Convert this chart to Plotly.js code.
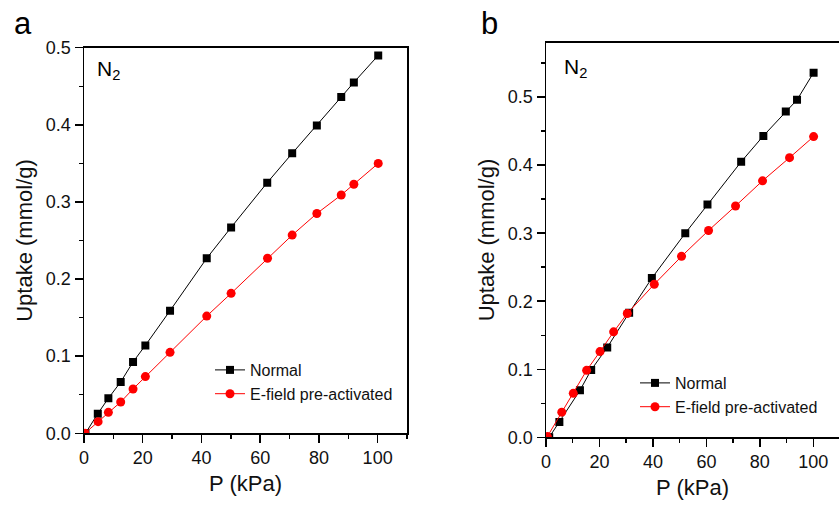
<!DOCTYPE html>
<html>
<head>
<meta charset="utf-8">
<script src="https://cdn.plot.ly/plotly-3.0.1.min.js"></script>
<style>html,body{margin:0;padding:0;background:#fff;}#chart{width:839px;height:506px;}</style>
</head>
<body>
<div id="chart"></div>
<script>
// Panel a: N2 uptake
const aNormalP = [0.5, 4.7, 8.3, 12.5, 16.7, 20.9, 29.3, 41.8, 50.1, 62.4, 70.9, 79.3, 87.6, 91.9, 100.2];
const aNormalU = [0.0, 0.0255, 0.0454, 0.0666, 0.0925, 0.114, 0.159, 0.227, 0.267, 0.325, 0.363, 0.399, 0.436, 0.455, 0.490];
const aEfieldP = [0.3, 4.8, 8.3, 12.5, 16.7, 20.9, 29.3, 41.8, 50.1, 62.5, 70.9, 79.3, 87.6, 91.9, 100.2];
const aEfieldU = [0.0, 0.0151, 0.0272, 0.0406, 0.0575, 0.0735, 0.105, 0.152, 0.1815, 0.227, 0.257, 0.285, 0.309, 0.323, 0.350];
// Panel b: N2 uptake
const bNormalP = [1.2, 5.0, 12.7, 16.9, 22.9, 31.1, 39.6, 52.1, 60.4, 73.0, 81.3, 89.7, 93.9, 100.1];
const bNormalU = [0.0, 0.0225, 0.069, 0.099, 0.132, 0.183, 0.234, 0.300, 0.342, 0.405, 0.443, 0.479, 0.496, 0.536];
const bEfieldP = [0.5, 5.9, 10.2, 15.2, 20.2, 25.3, 30.4, 40.5, 50.7, 60.8, 70.9, 81.0, 91.1, 100.1];
const bEfieldU = [0.001, 0.037, 0.0646, 0.0984, 0.126, 0.155, 0.182, 0.225, 0.266, 0.304, 0.340, 0.377, 0.411, 0.442];

const seriesNames = ["Normal", "E-field pre-activated"];
const panelLabels = ["a", "b"];
const gasLabel = "N<sub>2</sub>";
const xTitle = "P (kPa)";
const yTitle = "Uptake (mmol/g)";

const W = 839, H = 506;
const FONT = "Liberation Sans, Arial, sans-serif";
const px = v => v / W;
const py = v => 1 - v / H;

function normalTrace(x, y, xa, ya, lg, show) {
  return {x, y, xaxis: xa, yaxis: ya, legend: lg, name: seriesNames[0], showlegend: show,
    type: "scatter", mode: "lines+markers",
    line: {color: "#000000", width: 1},
    marker: {symbol: "square", size: 8, color: "#000000"}};
}
function efieldTrace(x, y, xa, ya, lg, show) {
  return {x, y, xaxis: xa, yaxis: ya, legend: lg, name: seriesNames[1], showlegend: show,
    type: "scatter", mode: "lines+markers",
    line: {color: "#ff0000", width: 1},
    marker: {symbol: "circle", size: 9, color: "#ff0000"}};
}

const data = [
  normalTrace(aNormalP, aNormalU, "x", "y", "legend", true),
  efieldTrace(aEfieldP, aEfieldU, "x", "y", "legend", true),
  normalTrace(bNormalP, bNormalU, "x2", "y2", "legend2", true),
  efieldTrace(bEfieldP, bEfieldU, "x2", "y2", "legend2", true)
];

const tickFont = {family: FONT, size: 18, color: "#111"};
const titleFont = {family: FONT, size: 22, color: "#111"};

function xAxis(domain, range, anchor) {
  return {domain, range, anchor, dtick: 20, tick0: 0, ticks: "outside", ticklen: 8, tickwidth: 1.5,
    tickcolor: "#000", showline: true, linecolor: "#000", linewidth: 1.5, mirror: true,
    showgrid: false, zeroline: false, tickfont: tickFont,
    minor: {dtick: 10, ticks: "outside", ticklen: 4, tickwidth: 1.5, tickcolor: "#000", showgrid: false},
    title: {text: xTitle, font: titleFont, standoff: 8}};
}
function yAxis(domain, range, anchor, mirror) {
  return {domain, range, anchor, dtick: 0.1, tick0: 0, tickformat: ".1f", ticks: "outside", ticklen: 8, tickwidth: 1.5,
    tickcolor: "#000", showline: true, linecolor: "#000", linewidth: 1.5, mirror: mirror,
    showgrid: false, zeroline: false, tickfont: tickFont,
    minor: {dtick: 0.05, ticks: "outside", ticklen: 4, tickwidth: 1.5, tickcolor: "#000", showgrid: false},
    title: {text: yTitle, font: titleFont, standoff: 7}};
}

const layout = {
  width: W, height: H,
  margin: {l: 0, r: 0, t: 0, b: 0},
  paper_bgcolor: "#fff", plot_bgcolor: "#fff",
  font: {family: FONT, color: "#111"},
  xaxis: xAxis([px(84), px(407)], [0, 110], "y"),
  yaxis: yAxis([py(433.3), py(47.7)], [0, 0.5], "x", true),
  xaxis2: xAxis([px(546), 1], [0, 109.6], "y2"),
  yaxis2: yAxis([py(437.3), py(42.7)], [0, 0.58], "x2", false),
  legend: {x: px(210), y: py(353), xanchor: "left", yanchor: "top", bgcolor: "rgba(0,0,0,0)",
    font: {family: FONT, size: 16, color: "#111"}, tracegroupgap: 0},
  legend2: {x: px(635), y: py(366), xanchor: "left", yanchor: "top", bgcolor: "rgba(0,0,0,0)",
    font: {family: FONT, size: 16, color: "#111"}, tracegroupgap: 0},
  showlegend: true,
  annotations: [
    {text: panelLabels[0], xref: "paper", yref: "paper", x: px(12), y: py(24), xanchor: "left", yanchor: "middle",
      showarrow: false, font: {family: FONT, size: 31, color: "#000"}},
    {text: panelLabels[1], xref: "paper", yref: "paper", x: px(479), y: py(24), xanchor: "left", yanchor: "middle",
      showarrow: false, font: {family: FONT, size: 31, color: "#000"}},
    {text: gasLabel, xref: "paper", yref: "paper", x: px(95), y: py(70), xanchor: "left", yanchor: "middle",
      showarrow: false, font: {family: FONT, size: 21, color: "#000"}},
    {text: gasLabel, xref: "paper", yref: "paper", x: px(562), y: py(68), xanchor: "left", yanchor: "middle",
      showarrow: false, font: {family: FONT, size: 21, color: "#000"}}
  ]
};

Plotly.newPlot("chart", data, layout, {displayModeBar: false, staticPlot: true});
</script>
</body>
</html>
